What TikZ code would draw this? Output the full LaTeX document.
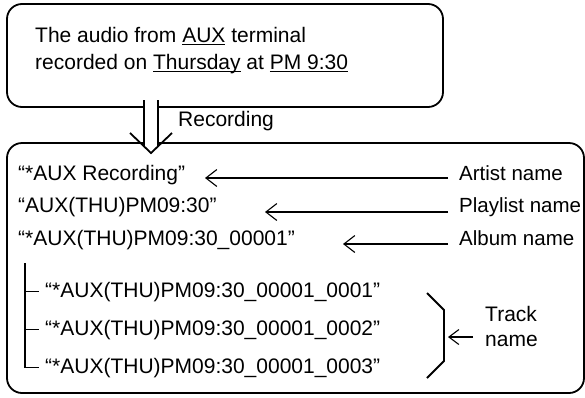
\documentclass[tikz,border=0pt]{standalone}
\usepackage{fontspec}
\setmainfont{Liberation Sans}
\usetikzlibrary{arrows.meta}
\newcommand\underword[1]{{\setbox0\hbox{#1}\rlap{\rule[-2.6pt]{\wd0}{1pt}}\box0}}

\begin{document}
\begin{tikzpicture}[
  x=1pt, y=-1pt,
  >={Straight Barb[length=11pt,width=17pt]},
  every node/.style={font=\fontsize{21}{26.5}\selectfont, inner sep=0pt},
  panel/.style={draw, line width=1.8pt, rounded corners=15pt},
  entry/.style={anchor=base west},
  tag/.style={anchor=base west, inner xsep=11pt, font=\fontsize{20.5}{25}\selectfont},
  pointer/.style={->, line width=1.1pt},
  tree/.style={line width=1.2pt},
  brace/.style={line width=1.8pt}
]
\useasboundingbox (0,0) rectangle (585,397);

% the two panels
\node[panel, minimum width=436pt, minimum height=103pt] (source) at (225,55.5) {};
\node[panel, minimum width=577pt, minimum height=250pt] (library) at (295.5,268) {};
\node[entry, align=left] (audio) at (35,69)
  {The audio from \underword{AUX} terminal\\recorded on \underword{Thursday} at \underword{PM 9:30}};

% double arrow from source to library
\coordinate (flowtop) at (151,100);
\coordinate (flowend) at (151,146);
\draw[line width=1.8pt, double distance=12.2pt] (flowtop) -- (flowend);
\draw[line width=1.8pt] (130,133) -- (151,153) -- (172,133);
\node[entry] (rec) at (178,126) {Recording};

% names in the library
\node[entry] (artistrow) at (18,180) {“*AUX Recording”};
\node[entry] (playlistrow) at (18,212.5) {“AUX(THU)PM09:30”};
\node[entry] (albumrow) at (18,245) {“*AUX(THU)PM09:30\_00001”};

\node[tag] (artist) at (448,180) {Artist name};
\node[tag] (playlist) at (448,212.5) {Playlist name};
\node[tag] (album) at (448,245) {Album name};

\coordinate (artisttip) at (205,178);
\coordinate (playlisttip) at (265,212);
\coordinate (albumtip) at (343,244);
\draw[pointer] (artist.west |- artisttip) -- (artisttip);
\draw[pointer] (playlist.west |- playlisttip) -- (playlisttip);
\draw[pointer] (album.west |- albumtip) -- (albumtip);

% tracks
\node[entry, inner xsep=6pt] (trackone) at (39,297) {“*AUX(THU)PM09:30\_00001\_0001”};
\node[entry, inner xsep=6pt] (tracktwo) at (39,335) {“*AUX(THU)PM09:30\_00001\_0002”};
\node[entry, inner xsep=6pt] (trackthree) at (39,373) {“*AUX(THU)PM09:30\_00001\_0003”};
\coordinate (treetop) at (25,263);
\foreach \t in {trackone,tracktwo,trackthree}
  \draw[tree] (treetop) |- (\t.west);

\draw[brace] (427,293) -- (444,310) -- (444,361) -- (427,378);
\node[anchor=north west, inner xsep=12pt, align=left,
      font=\fontsize{21}{25}\selectfont] (track) at (473,306.5) {Track\\name};
\coordinate (tracktip) at (448,337);
\draw[pointer, >={Straight Barb[length=10pt,width=15pt]}] (track.west |- tracktip) -- (tracktip);
\end{tikzpicture}
\end{document}
